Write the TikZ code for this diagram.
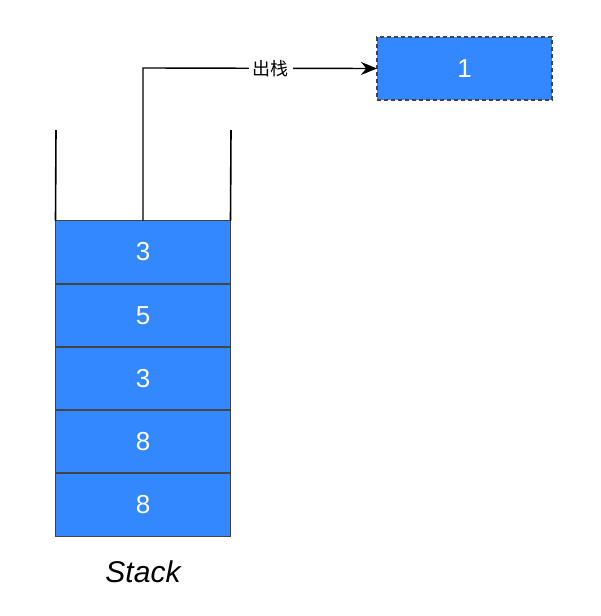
\documentclass[tikz,border=0pt]{standalone}
\usepackage{fontspec}
\setmainfont{Liberation Sans}
\newfontfamily\cjk{Noto Sans CJK SC}
\usetikzlibrary{arrows.meta}
\definecolor{cellblue}{HTML}{3488FF}
\definecolor{edgegray}{HTML}{444444}
\begin{document}
\begin{tikzpicture}[x=1pt,y=-1pt,
  cell/.style={draw=edgegray,line width=1.5pt,fill=cellblue,minimum width=175pt,minimum height=63pt,
    inner sep=0pt,outer sep=0pt,text=white,font=\fontsize{26}{26}\selectfont},
  wall/.style={draw=black,line width=1.6pt},
  link/.style={draw=black,line width=1.4pt,-{Stealth[length=16pt,width=13pt]}}]
\useasboundingbox (0,0) rectangle (600,616);
\node[cell] (c1) at (143,252) {3};
\node[cell] (c2) at (143,315.5) {5};
\node[cell] (c3) at (143,378.5) {3};
\node[cell] (c4) at (143,441.5) {8};
\node[cell] (c5) at (143,505) {8};
\node[cell,dashed,dash pattern=on 4pt off 3pt] (top) at (464.5,68.5) {1};
\coordinate (wl) at (56,130);
\coordinate (wr) at (231,130);
\draw[wall] (wl) -- (c1.north west);
\draw[wall] (wr) -- (c1.north east);
\coordinate (bend) at (143,68);
\draw[link] (c1.north) -- (bend) -- node[pos=0.545,fill=white,inner sep=4pt,font=\cjk\fontsize{18}{18}\selectfont]{出栈} (top.west);
\node[font=\itshape\fontsize{30}{30}\selectfont] (lbl) at (143,572) {Stack};
\end{tikzpicture}
\end{document}
